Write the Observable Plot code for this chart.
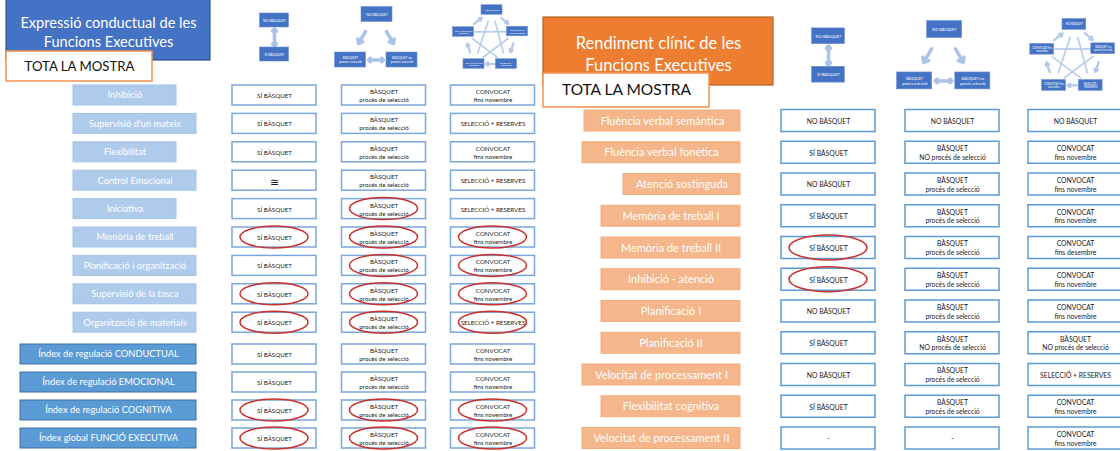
<!DOCTYPE html>
<html><head><meta charset="utf-8">
<script src="https://cdn.jsdelivr.net/npm/d3@7"></script>
<script src="https://cdn.jsdelivr.net/npm/@observablehq/plot@0.6"></script>
<style>html,body{margin:0;padding:0;background:#fff}</style>
</head><body><div id="chart"></div>
<script>
// ================= DATA =================
const leftTitle = "Expressió conductual de les\nFuncions Executives";
const rightTitle = "Rendiment clínic de les\nFuncions Executives";
const sampleLabel = "TOTA LA MOSTRA";

const leftScales = ["Inhibició", "Supervisió d’un mateix", "Flexibilitat", "Control Emocional", "Iniciativa",
  "Memòria de treball", "Planificació i organització", "Supervisió de la tasca", "Organització de materials"];
const leftIndexes = ["Índex de regulació CONDUCTUAL", "Índex de regulació EMOCIONAL",
  "Índex de regulació COGNITIVA", "Índex global FUNCIÓ EXECUTIVA"];
const leftTwo = ["SÍ BÀSQUET", "SÍ BÀSQUET", "SÍ BÀSQUET", "≅", "SÍ BÀSQUET", "SÍ BÀSQUET", "SÍ BÀSQUET",
  "SÍ BÀSQUET", "SÍ BÀSQUET", "SÍ BÀSQUET", "SÍ BÀSQUET", "SÍ BÀSQUET", "SÍ BÀSQUET"];
const leftThree = ["BÀSQUET\nprocés de selecció", "BÀSQUET\nprocés de selecció", "BÀSQUET\nprocés de selecció",
  "BÀSQUET\nprocés de selecció", "BÀSQUET\nprocés de selecció", "BÀSQUET\nprocés de selecció",
  "BÀSQUET\nprocés de selecció", "BÀSQUET\nprocés de selecció", "BÀSQUET\nprocés de selecció",
  "BÀSQUET\nprocés de selecció", "BÀSQUET\nprocés de selecció", "BÀSQUET\nprocés de selecció",
  "BÀSQUET\nprocés de selecció"];
const leftFive = ["CONVOCAT\nfins novembre", "SELECCIÓ + RESERVES", "CONVOCAT\nfins novembre", "SELECCIÓ + RESERVES",
  "SELECCIÓ + RESERVES", "CONVOCAT\nfins novembre", "CONVOCAT\nfins novembre", "CONVOCAT\nfins novembre",
  "SELECCIÓ + RESERVES", "CONVOCAT\nfins novembre", "CONVOCAT\nfins novembre", "CONVOCAT\nfins novembre",
  "CONVOCAT\nfins novembre"];
const leftMarkedTwo = ["Memòria de treball", "Supervisió de la tasca", "Organització de materials",
  "Índex de regulació COGNITIVA", "Índex global FUNCIÓ EXECUTIVA"];
const leftMarkedThree = ["Iniciativa", "Memòria de treball", "Planificació i organització", "Supervisió de la tasca",
  "Organització de materials", "Índex de regulació COGNITIVA", "Índex global FUNCIÓ EXECUTIVA"];
const leftMarkedFive = ["Memòria de treball", "Planificació i organització", "Supervisió de la tasca",
  "Organització de materials", "Índex de regulació COGNITIVA", "Índex global FUNCIÓ EXECUTIVA"];

const rightTests = ["Fluència verbal semàntica", "Fluència verbal fonètica", "Atenció sostinguda",
  "Memòria de treball I", "Memòria de treball II", "Inhibició - atenció", "Planificació I", "Planificació II",
  "Velocitat de processament I", "Flexibilitat cognitiva", "Velocitat de processament II"];
const rightTwo = ["NO BÀSQUET", "SÍ BÀSQUET", "NO BÀSQUET", "SÍ BÀSQUET", "SÍ BÀSQUET", "SÍ BÀSQUET",
  "NO BÀSQUET", "SÍ BÀSQUET", "NO BÀSQUET", "SÍ BÀSQUET", "-"];
const rightThree = ["NO BÀSQUET", "BÀSQUET\nNO procés de selecció", "BÀSQUET\nprocés de selecció",
  "BÀSQUET\nprocés de selecció", "BÀSQUET\nprocés de selecció", "BÀSQUET\nprocés de selecció",
  "BÀSQUET\nprocés de selecció", "BÀSQUET\nNO procés de selecció", "BÀSQUET\nprocés de selecció",
  "BÀSQUET\nprocés de selecció", "-"];
const rightFive = ["NO BÀSQUET", "CONVOCAT\nfins novembre", "CONVOCAT\nfins novembre", "CONVOCAT\nfins novembre",
  "CONVOCAT\nfins desembre", "CONVOCAT\nfins novembre", "CONVOCAT\nfins novembre", "BÀSQUET\nNO procés de selecció",
  "SELECCIÓ + RESERVES", "CONVOCAT\nfins novembre", "CONVOCAT\nfins novembre"];
const rightMarkedTwo = ["Memòria de treball II", "Inhibició - atenció"];
const rightMarkedThree = [];
const rightMarkedFive = [];

const groupsTwo = ["NO BÀSQUET", "SÍ BÀSQUET"];
const groupsThree = ["NO BÀSQUET", "BÀSQUET\nprocés selecció", "BÀSQUET no\nprocés selecció"];
const groupsFive = ["NO BÀSQUET", "BÀSQUET no\nprocés selecció", "SELECCIÓ +\nRESERVES",
  "CONVOCAT fins\ndesembre", "CONVOCAT fins\nnovembre"];

// ================= LAYOUT =================
const tplTwo = {nodes: [[0, -17], [0, 17]], size: [29, 14], font: 3.6,
  arrows: [{a: [0, -8.5], b: [0, 8.5], both: true}]};
const tplThree = {nodes: [[-7, -23], [-33.5, 22.5], [18, 22.5]], size: [31, 15], font: 3.4,
  arrows: [{a: [-18.5, -6], b: [-25.5, 6]}, {a: [2.5, -6], b: [9.5, 6]}, {a: [-15.5, 22.5], b: [-0.5, 22.5], both: true}]};
const tplFive = {nodes: [[-1, -27.5], [24.5, -6], [13.5, 26.5], [-19, 26.5], [-29.5, -5.5]], size: [21, 9.5], font: 2.4};

const panels = [
  {
    rows: [...leftScales, ...leftIndexes], cols: [leftTwo, leftThree, leftFive],
    marked: [leftMarkedTwo, leftMarkedThree, leftMarkedFive],
    title: leftTitle, titleBox: [6, 210, -2, 60], titleFill: "#4472C4", titleStroke: "#2F528F",
    titleAt: [108, 30.5], titleFont: 14.6,
    sampleBox: [6, 152, 51, 81], sampleAt: [79, 66.5], sampleFont: 13.2,
    colX: [274, 383.5, 492.5], cellW: 84, cellH: 20, cellFont: 6.2, cellStroke: "#7AA7DC",
    rowY: i => i < 9 ? 95 + i * 28.4 : 354 + (i - 9) * 28,
    labelX: (t, i) => i < 9 ? [73, t.length > 12 ? 196 : 176] : [20, 196], labelH: 20,
    labelFill: i => i < 9 ? "#AFCBEC" : "#5B9BD5", labelStroke: i => i < 9 ? "#A3C2E8" : "#3F6FA6",
    labelFont: 9.3, headerY: 37, k: 1, ell: [68, 22]
  },
  {
    rows: rightTests, cols: [rightTwo, rightThree, rightFive],
    marked: [rightMarkedTwo, rightMarkedThree, rightMarkedFive],
    title: rightTitle, titleBox: [543, 773, 17, 85], titleFill: "#ED7D31", titleStroke: "#B65F24",
    titleAt: [658, 52.5], titleFont: 16.5,
    sampleBox: [543, 709, 73, 107], sampleAt: [626, 90], sampleFont: 15.5,
    colX: [828, 952, 1075], cellW: 94, cellH: 22, cellFont: 6.8, cellStroke: "#5B9BD5",
    rowY: i => 120.5 + i * 31.75,
    labelX: (t, i) => [[584, 582, 623, 601, 601, 601, 601, 601, 582, 601, 582][i], 740], labelH: 21,
    labelFill: () => "#F4B68A", labelStroke: () => "#F2AE7E",
    labelFont: 11, headerY: 55, k: 1.13, ell: [78, 25]
  }
];

// ============ BUILD MARK DATA ============
const titleRects = [], titleTexts = [], sampleRects = [], sampleTexts = [];
const labelRects = [], labelTexts = [], cellRects = [], cellTexts = [];
const ellipsesL = [], ellipsesR = [];
const nodeRects = [], nodeTexts = [], bigArrows = [], smallArrows = [], starLines = [];

panels.forEach((p, pi) => {
  const [tx1, tx2, ty1, ty2] = p.titleBox;
  titleRects.push({x1: tx1, x2: tx2, y1: ty1, y2: ty2, fill: p.titleFill, stroke: p.titleStroke});
  titleTexts.push({x: p.titleAt[0], y: p.titleAt[1], text: p.title, fs: p.titleFont});
  const [sx1, sx2, sy1, sy2] = p.sampleBox;
  sampleRects.push({x1: sx1, x2: sx2, y1: sy1, y2: sy2});
  sampleTexts.push({x: p.sampleAt[0], y: p.sampleAt[1], text: sampleLabel, fs: p.sampleFont});

  p.rows.forEach((r, i) => {
    const y = p.rowY(i);
    const [lx1, lx2] = p.labelX(r, i);
    labelRects.push({x1: lx1, x2: lx2, y1: y - p.labelH / 2, y2: y + p.labelH / 2, fill: p.labelFill(i), stroke: p.labelStroke(i)});
    labelTexts.push({x: (lx1 + lx2) / 2, y, text: r, fs: p.labelFont});
    p.cols.forEach((col, ci) => {
      const cx = p.colX[ci];
      cellRects.push({x1: cx - p.cellW / 2, x2: cx + p.cellW / 2, y1: y - p.cellH / 2, y2: y + p.cellH / 2, stroke: p.cellStroke});
      const v = col[i];
      cellTexts.push({x: cx, y: y + (v === "≅" ? 1 : 0), text: v, fs: v === "≅" ? 11 : p.cellFont});
      if (p.marked[ci].includes(r)) {
        (pi === 0 ? ellipsesL : ellipsesR).push({x1: cx - p.ell[0] / 2, x2: cx + p.ell[0] / 2, y1: y - p.ell[1] / 2, y2: y + p.ell[1] / 2});
      }
    });
  });

  // header diagrams of the 2, 3 and 5 group models
  const tpls = [[tplTwo, groupsTwo], [tplThree, groupsThree], [tplFive, groupsFive]];
  tpls.forEach(([t, names], ci) => {
    const k = p.k, cx = p.colX[ci], cy = p.headerY;
    const P = ([dx, dy]) => [cx + dx * k, cy + dy * k];
    const pts = t.nodes.map(P);
    if (t.arrows) {
      t.arrows.forEach(a => {
        const A = P(a.a), B = P(a.b);
        if (a.both) {
          const M = [(A[0] + B[0]) / 2, (A[1] + B[1]) / 2];
          bigArrows.push({x1: M[0], y1: M[1], x2: B[0], y2: B[1], k});
          bigArrows.push({x1: M[0], y1: M[1], x2: A[0], y2: A[1], k});
        } else bigArrows.push({x1: A[0], y1: A[1], x2: B[0], y2: B[1], k});
      });
    } else {
      const n = pts.length;
      for (let j = 0; j < n; j++) {
        const a = pts[j], b = pts[(j + 1) % n];
        const lerp = (u) => [a[0] + (b[0] - a[0]) * u, a[1] + (b[1] - a[1]) * u];
        const s = lerp(0.36), e = lerp(0.64);
        smallArrows.push({x1: s[0], y1: s[1], x2: e[0], y2: e[1]});
        const c = pts[(j + 2) % n];
        const l2 = (u) => [a[0] + (c[0] - a[0]) * u, a[1] + (c[1] - a[1]) * u];
        const s2 = l2(0.2), e2 = l2(0.8);
        starLines.push({x1: s2[0], y1: s2[1], x2: e2[0], y2: e2[1]});
      }
    }
    pts.forEach((q, j) => {
      const w = t.size[0] * k, h = t.size[1] * k;
      nodeRects.push({x1: q[0] - w / 2, x2: q[0] + w / 2, y1: q[1] - h / 2, y2: q[1] + h / 2});
      nodeTexts.push({x: q[0], y: q[1], text: names[j], fs: t.font * k});
    });
  });
});

// ================= PLOT =================
const chart = Plot.plot({
  width: 1120, height: 451, margin: 0,
  x: {domain: [0, 1120], range: [0, 1120], axis: null},
  y: {domain: [0, 451], range: [0, 451], axis: null},
  color: {type: "identity"},
  style: {fontFamily: "Lato, 'Open Sans', sans-serif", background: "#ffffff", overflow: "visible"},
  marks: [
    Plot.rect(titleRects, {x1: "x1", x2: "x2", y1: "y1", y2: "y2", fill: "fill", stroke: "stroke", strokeWidth: 1.2}),
    Plot.text(titleTexts, {x: "x", y: "y", text: "text", fontSize: "fs", fill: "white", lineHeight: 1.3}),
    Plot.rect(sampleRects, {x1: "x1", x2: "x2", y1: "y1", y2: "y2", fill: "white", stroke: "#F0914F", strokeWidth: 1.5}),
    Plot.text(sampleTexts, {x: "x", y: "y", text: "text", fontSize: "fs", fill: "#111"}),
    Plot.link(starLines, {x1: "x1", y1: "y1", x2: "x2", y2: "y2", stroke: "#B7CBEA", strokeWidth: 1.6}),
    Plot.arrow(smallArrows, {x1: "x1", y1: "y1", x2: "x2", y2: "y2", stroke: "#B3C8EA", strokeWidth: 2.2, headLength: 3.5}),
    Plot.arrow(bigArrows, {x1: "x1", y1: "y1", x2: "x2", y2: "y2", stroke: "#ABC3E8", strokeWidth: 3.5, headLength: 5.5, headAngle: 80}),
    Plot.rect(nodeRects, {x1: "x1", x2: "x2", y1: "y1", y2: "y2", fill: "#4472C4", stroke: "#6A8FD3", strokeWidth: 0.6}),
    Plot.text(nodeTexts, {x: "x", y: "y", text: "text", fontSize: "fs", fill: "white", lineHeight: 1.15}),
    Plot.rect(labelRects, {x1: "x1", x2: "x2", y1: "y1", y2: "y2", fill: "fill", stroke: "stroke", strokeWidth: 1}),
    Plot.text(labelTexts, {x: "x", y: "y", text: "text", fontSize: "fs", fill: "white"}),
    Plot.rect(cellRects, {x1: "x1", x2: "x2", y1: "y1", y2: "y2", fill: "white", stroke: "stroke", strokeWidth: 1.5}),
    Plot.text(cellTexts, {x: "x", y: "y", text: "text", fontSize: "fs", fill: "#1a1a1a", lineHeight: 1.3}),
    Plot.rect(ellipsesL, {x1: "x1", x2: "x2", y1: "y1", y2: "y2", fill: "none", stroke: "#C9302C", strokeWidth: 1.5, rx: 34, ry: 11}),
    Plot.rect(ellipsesR, {x1: "x1", x2: "x2", y1: "y1", y2: "y2", fill: "none", stroke: "#C9302C", strokeWidth: 1.5, rx: 39, ry: 12.5})
  ]
});
document.getElementById("chart").appendChild(chart);
</script>
</body></html>
